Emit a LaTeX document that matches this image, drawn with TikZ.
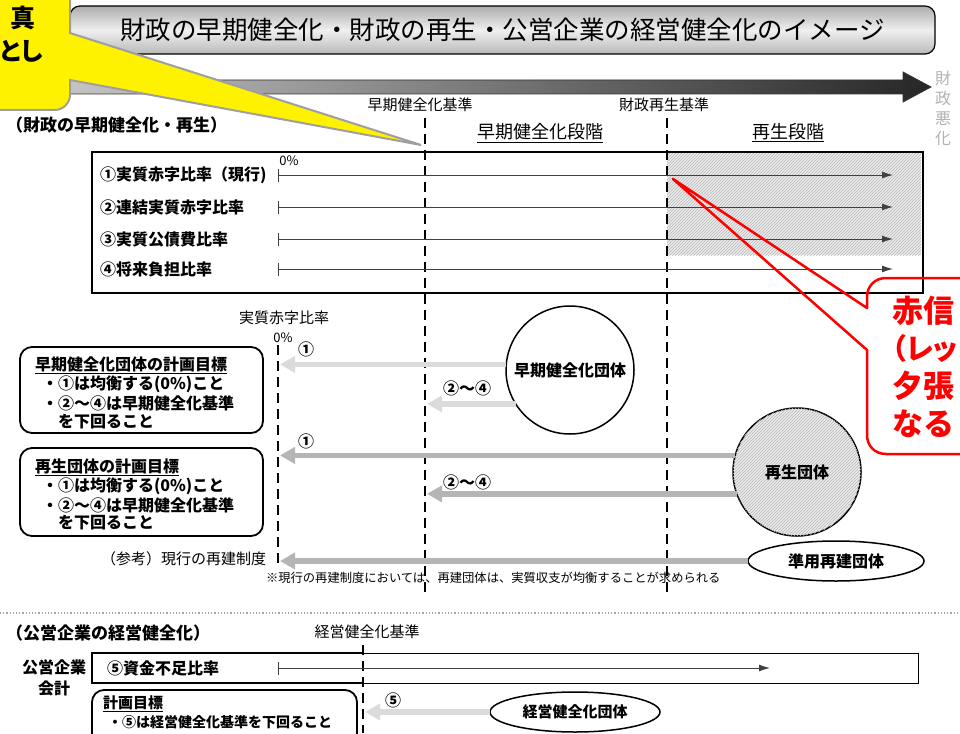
\documentclass[tikz,border=0pt]{standalone}
\usepackage{fontspec}
\setmainfont{Noto Sans CJK JP}
\usetikzlibrary{arrows.meta,patterns,shapes.geometric,calc}
\newcommand\fsz[1]{\fontsize{#1pt}{#1pt}\selectfont}
\newcommand\paltx{\addfontfeatures{RawFeature=+palt}}
\begin{document}
\begin{tikzpicture}[x=1pt,y=-1pt,
  every node/.style={inner sep=0pt, outer sep=0pt},
  dashln/.style={line width=2.2pt, dash pattern=on 10pt off 6pt},
  rowarr/.style={line width=0.9pt, draw=black!75, {Bar[width=13pt]}-{Latex[length=11pt,width=7pt]}},
  fatlight/.style={line width=5.5pt, draw=gray!28, -{Triangle[length=15pt,width=16pt]}, shorten >=2pt},
  fatdark/.style={line width=5.5pt, draw=gray!58, -{Triangle[length=15pt,width=16pt]}, shorten >=2pt},
  hatch/.style={fill=gray!16, postaction={pattern=north east lines, pattern color=gray!55}},
  planbox/.style={draw, line width=1.8pt, rounded corners=12pt},
  bt/.style={anchor=west, font=\fsz{16}\bfseries},
  redtxt/.style={anchor=west, text=red, font=\fsz{31}\bfseries},
]
\useasboundingbox (0,0) rectangle (960,733);
\fill[white] (0,0) rectangle (960,733);
\begin{scope}
\clip (0,0) rectangle (960,733);

% title
\node[draw=black, line width=1.2pt, rounded corners=10pt, top color=gray!65, bottom color=gray!55, middle color=gray!12,
  minimum width=865pt, minimum height=48pt] (title) at (502.5,30) {\fsz{25.5}財政の早期健全化・財政の再生・公営企業の経営健全化のイメージ};

% big arrow
\path[left color=gray!45, right color=black!85, draw=black!80, line width=0.8pt]
  (60,80) -- (903,80) -- (903,72) -- (931,87) -- (903,102) -- (903,94) -- (60,94) -- cycle;
\node[text=gray!60, align=center, font=\fontsize{16pt}{20pt}\selectfont] (akka) at (943,108) {財\\政\\悪\\化};

% labels of thresholds
\node (kijun1) at (420,105) {\fsz{15}早期健全化基準};
\node (kijun2) at (664,105) {\fsz{15}財政再生基準};
\node[anchor=west] (sec1) at (6,125) {\fsz{17}\bfseries （財政の早期健全化・再生）};
\node (stage1) at (540,133) {\fsz{18}\underline{早期健全化段階}};
\node (stage2) at (788,133) {\fsz{18}\underline{再生段階}};

% main box
\path[hatch] (667,153) rectangle (921,255);
\node[draw, line width=2pt, minimum width=831pt, minimum height=141pt] (mainbox) at (507.5,222.5) {};

% dashed threshold lines
\coordinate (L0a) at (278,345); \coordinate (L0b) at (278,568);
\coordinate (L1a) at (425,118); \coordinate (L1b) at (425,596);
\coordinate (L2a) at (667,118); \coordinate (L2b) at (667,596);
\coordinate (L3a) at (363,645); \coordinate (L3b) at (363,733);
\draw[dashln] (L0a) -- (L0b);
\draw[dashln] (L1a) -- (L1b);
\draw[dashln] (L2a) -- (L2b);
\draw[dashln] (L3a) -- (L3b);

% rows
\node[bt] (row1) at (100,175) {①実質赤字比率（現行)};
\node[bt] (row2) at (100,207) {②連結実質赤字比率};
\node[bt] (row3) at (100,239) {③実質公債費比率};
\node[bt] (row4) at (100,269) {④将来負担比率};
\node (pct0) at (289,161) {\fsz{13}0\%};
\coordinate (r1s) at (278,175); \coordinate (r1e) at (893,175);
\coordinate (r2s) at (278,207); \coordinate (r2e) at (893,207);
\coordinate (r3s) at (278,239); \coordinate (r3e) at (893,239);
\coordinate (r4s) at (278,269); \coordinate (r4e) at (893,269);
\draw[rowarr] (r1s) -- (r1e);
\draw[rowarr] (r2s) -- (r2e);
\draw[rowarr] (r3s) -- (r3e);
\draw[rowarr] (r4s) -- (r4e);

% middle section
\node (jrate) at (284,318) {\fsz{15}実質赤字比率};
\node (pct1) at (283,338) {\fsz{13}0\%};
\node (m1a) at (306,349) {\fsz{16}\bfseries ①};
\node (m24a) at (467,388) {\fsz{16}\bfseries ②～④};
\node (m1b) at (306,441) {\fsz{16}\bfseries ①};
\node (m24b) at (467,482) {\fsz{16}\bfseries ②～④};

\draw[planbox] (20,347) rectangle (263,433);
\node[bt] (p1t) at (35,365) {\underline{早期健全化団体の計画目標}};
\node[bt] (p1a) at (42,384) {・①は均衡する(0\%)こと};
\node[bt] (p1b) at (42,403) {・②～④は早期健全化基準};
\node[bt] (p1c) at (58,422) {を下回ること};

\draw[planbox] (20,448) rectangle (263,536);
\node[bt] (p2t) at (35,467) {\underline{再生団体の計画目標}};
\node[bt] (p2a) at (42,486) {・①は均衡する(0\%)こと};
\node[bt] (p2b) at (42,505) {・②～④は早期健全化基準};
\node[bt] (p2c) at (58,523) {を下回ること};

\node[circle, draw, line width=1.5pt, fill=white, minimum size=128pt, font=\fsz{16}\bfseries] (ecirc) at (570,370) {早期健全化団体};
\node[circle, draw, line width=1.5pt, hatch, minimum size=128pt, font=\fsz{16}\bfseries] (rcirc) at (797,472) {再生団体};
\node[ellipse, draw, line width=1.5pt, fill=white, minimum width=176pt, minimum height=40pt, font=\fsz{16}\bfseries] (jell) at (836,561) {準用再建団体};

\draw[fatlight] (ecirc.175.5) -- (ecirc.175.5 -| L0a);
\draw[fatlight] (ecirc.212) -- (ecirc.212 -| L1a);
\draw[fatdark] (rcirc.165.5) -- (rcirc.165.5 -| L0a);
\draw[fatdark] (rcirc.200) -- (rcirc.200 -| L1a);
\draw[fatdark] (jell.west) -- (jell.west -| L0a);

\node[anchor=east] (sanko) at (266,559) {\fsz{15}（参考）現行の再建制度};
\node[anchor=west] (note) at (266,578) {\fsz{12.3}※現行の再建制度においては、再建団体は、実質収支が均衡することが求められる};

% bottom section
\draw[dotted, line width=1.2pt, gray!70] (0,613) -- (960,613);
\node[anchor=west] (sec2) at (6,633) {\fsz{17}\bfseries （公営企業の経営健全化）};
\node (kijun3) at (367,632) {\fsz{15}経営健全化基準};
\node[draw, line width=1pt, minimum width=826pt, minimum height=30pt] (pbox) at (505,668) {};
\draw[line width=2pt] (363,653) -- (92,653) -- (92,683) -- (363,683);
\node (koei1) at (54,667) {\fsz{16}\bfseries 公営企業};
\node (koei2) at (54,688) {\fsz{16}\bfseries 会計};
\node[bt] (row5) at (107,668) {⑤資金不足比率};
\coordinate (r5s) at (278,668); \coordinate (r5e) at (770,668);
\draw[rowarr] (r5s) -- (r5e);

\draw[planbox] (92,690) rectangle (357,745);
\node[anchor=west, font=\fsz{15}\bfseries] (p3t) at (103,704) {\underline{計画目標}};
\node[anchor=west, font=\fsz{14}\bfseries] (p3a) at (108,722) {・⑤は経営健全化基準を下回ること};
\node (m5) at (393,700) {\fsz{16}\bfseries ⑤};
\node[ellipse, draw, line width=1.5pt, fill=white, minimum width=170pt, minimum height=40pt, font=\fsz{15}\bfseries] (kell) at (575,712) {経営健全化団体};
\draw[fatlight] (kell.west) -- (kell.west -| L3a);

% yellow callout
\path[fill=yellow, draw=gray!75, line width=2pt]
  (-20,-20) -- (70,-20) -- (70,33) -- (421,145) -- (70,80) -- (70,95)
  .. controls (70,103) and (63,110) .. (55,110) -- (-20,110) -- cycle;
\node[anchor=east, font=\fsz{25}\bfseries] (y1) at (35,18) {真};
\node[anchor=east, font=\fsz{25}\bfseries\paltx] (y2) at (43,51) {とし};

% red callout
\draw[red, line width=2.5pt, line join=round]
  (990,278) -- (886,278) .. controls (875,278) and (867,286) .. (867,297) -- (867,308)
  -- (673,179) -- (867,350) -- (867,435) .. controls (867,446) and (875,454) .. (886,454) -- (990,454);
\node[redtxt] (red1) at (892,311) {赤信};
\node[redtxt, anchor=east, font=\fsz{29}\bfseries\paltx] (red2) at (958,348) {（レッ};
\node[redtxt] (red3) at (892,386) {夕張};
\node[redtxt] (red4) at (892,424) {なる};
\end{scope}
\end{tikzpicture}
\end{document}
